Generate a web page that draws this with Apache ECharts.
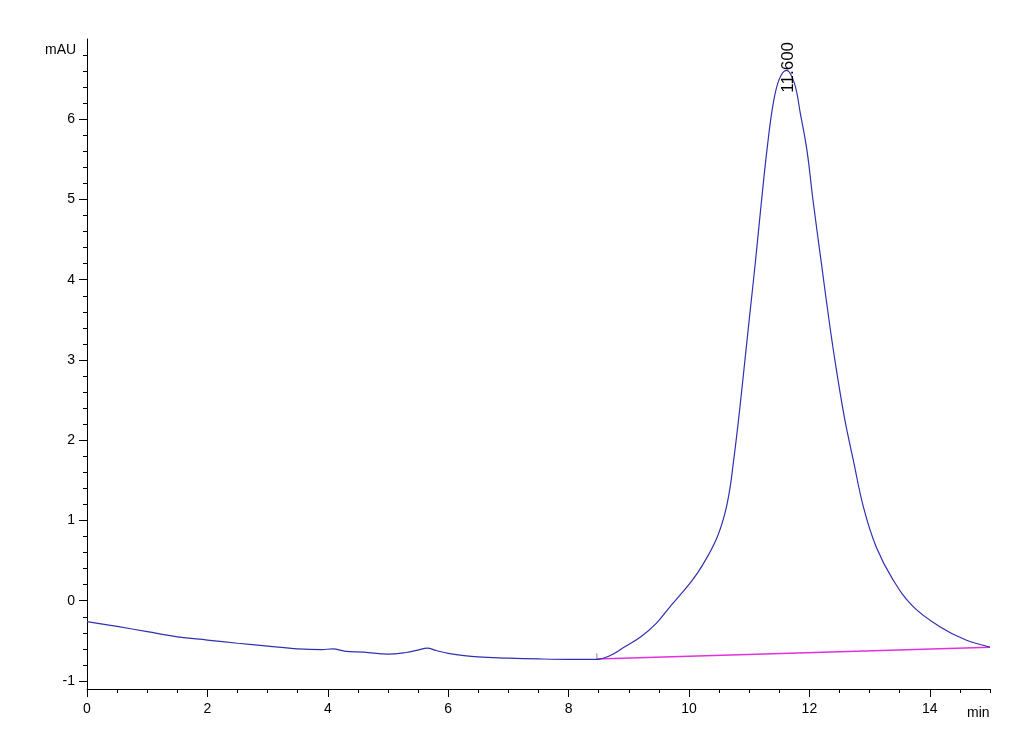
<!DOCTYPE html>
<html><head><meta charset="utf-8">
<script src="https://cdn.jsdelivr.net/npm/echarts@6/dist/echarts.min.js"></script>
<style>html,body{margin:0;padding:0;background:#fff}#c{width:1030px;height:755px}</style>
</head><body><div id="c"></div>
<script>
// Chromatogram trace (time in min, signal in mAU)
const times = [0, 0.5, 1.0, 1.5, 2.0, 2.5, 3.0, 3.5, 3.9, 4.08, 4.3, 4.6, 5.0, 5.3, 5.5, 5.65, 5.8, 6.0, 6.5, 7.0, 7.5, 8.0, 8.47,
  8.7, 8.9, 9.2, 9.46, 9.7, 9.84, 10.05, 10.23, 10.45, 10.59, 10.68, 10.73, 10.81, 10.89, 11.0, 11.1, 11.2, 11.3, 11.4, 11.5,
  11.62, 11.75, 11.85, 11.96, 12.06, 12.2, 12.34, 12.45, 12.59, 12.73, 12.9, 13.11, 13.39, 13.72, 14.16, 14.6, 14.96, 15.0];
const signal = [-0.26, -0.32, -0.385, -0.45, -0.49, -0.53, -0.565, -0.60, -0.61, -0.60, -0.63, -0.64, -0.665, -0.645, -0.615, -0.59, -0.62, -0.655, -0.70, -0.715, -0.725, -0.73, -0.73,
  -0.68, -0.59, -0.45, -0.28, -0.06, 0.06, 0.25, 0.45, 0.76, 1.07, 1.40, 1.68, 2.17, 2.72, 3.5, 4.2, 4.95, 5.65, 6.2, 6.5,
  6.61, 6.45, 6.07, 5.61, 4.99, 4.2, 3.42, 2.87, 2.25, 1.75, 1.16, 0.67, 0.26, -0.07, -0.32, -0.49, -0.57, -0.58];
// Integration baseline
const baselineTimes = [8.47, 15.0];
const baselineValues = [-0.725, -0.58];
// Integration start marker
const markerTimes = [8.47, 8.47];
const markerValues = [-0.73, -0.655];
// Peak annotation
const peakTime = 11.62;
const peakValue = 6.61;
const peakLabel = '11.600';
// Axis ticks
const xMajorTicks = [0, 2, 4, 6, 8, 10, 12, 14];
const yMajorTicks = [-1, 0, 1, 2, 3, 4, 5, 6];
const xMinorTicks = [];
for (let i = 1; i <= 30; i++) { const v = i * 0.5; if (v % 2 !== 0) xMinorTicks.push(v); }
const yMinorTicks = [];
for (let i = -4; i <= 34; i++) { const v = Math.round(i * 0.2 * 10) / 10; if (Math.abs(v - Math.round(v)) > 1e-6) yMinorTicks.push(v); }

const X_MIN = 0, X_MAX = 15, Y_MIN = -1.1, Y_MAX = 7;
const font = 'Liberation Sans, Arial, sans-serif';

function pairs(xs, ys) { return xs.map((x, i) => [x, ys[i]]); }

const chart = echarts.init(document.getElementById('c'), null, {renderer: 'canvas'});
chart.setOption({
  animation: false,
  backgroundColor: '#fff',
  grid: {left: 87, right: 40, top: 39, bottom: 66},
  xAxis: [{
    type: 'value', min: X_MIN, max: X_MAX, position: 'bottom',
    axisLine: {show: true, onZero: false, lineStyle: {color: '#000', width: 1}},
    axisTick: {show: true, length: 8, customValues: xMajorTicks, lineStyle: {color: '#000'}},
    axisLabel: {show: true, customValues: xMajorTicks, margin: 13, color: '#000', fontSize: 14, fontFamily: font},
    splitLine: {show: false}
  }, {
    type: 'value', min: X_MIN, max: X_MAX, position: 'bottom',
    axisLine: {show: false, onZero: false},
    axisTick: {show: true, length: 4, customValues: xMinorTicks, lineStyle: {color: '#000'}},
    axisLabel: {show: false},
    splitLine: {show: false}
  }],
  yAxis: [{
    type: 'value', min: Y_MIN, max: Y_MAX, position: 'left',
    axisLine: {show: true, onZero: false, lineStyle: {color: '#000', width: 1}},
    axisTick: {show: true, length: 8, customValues: yMajorTicks, lineStyle: {color: '#000'}},
    axisLabel: {show: true, customValues: yMajorTicks, margin: 12, color: '#000', fontSize: 14, fontFamily: font},
    splitLine: {show: false}
  }, {
    type: 'value', min: Y_MIN, max: Y_MAX, position: 'left',
    axisLine: {show: false, onZero: false},
    axisTick: {show: true, length: 4, customValues: yMinorTicks, lineStyle: {color: '#000'}},
    axisLabel: {show: false},
    splitLine: {show: false}
  }],
  series: [{
    type: 'line', name: 'baseline', data: pairs(baselineTimes, baselineValues),
    showSymbol: false, silent: true, z: 2,
    lineStyle: {color: '#e030e0', width: 1.5}
  }, {
    type: 'line', name: 'signal', data: pairs(times, signal),
    showSymbol: false, silent: true, z: 3,
    smooth: 0.4,
    lineStyle: {color: '#3030b0', width: 1.2},
    markPoint: {
      symbol: 'circle', symbolSize: 0, silent: true,
      data: [{coord: [peakTime, peakValue]}],
      label: {show: true, formatter: peakLabel, rotate: 90, position: 'inside', offset: [3, 2],
        color: '#000', fontSize: 17, fontFamily: font}
    }
  }, {
    type: 'line', name: 'marker', data: pairs(markerTimes, markerValues),
    showSymbol: false, silent: true, z: 1,
    lineStyle: {color: '#888', width: 1}
  }],
  graphic: [{
    type: 'text', left: 45, top: 43,
    style: {text: 'mAU', fill: '#000', font: '14px ' + font}
  }, {
    type: 'text', left: 967, top: 706,
    style: {text: 'min', fill: '#000', font: '14px ' + font}
  }]
});
</script>
</body></html>
